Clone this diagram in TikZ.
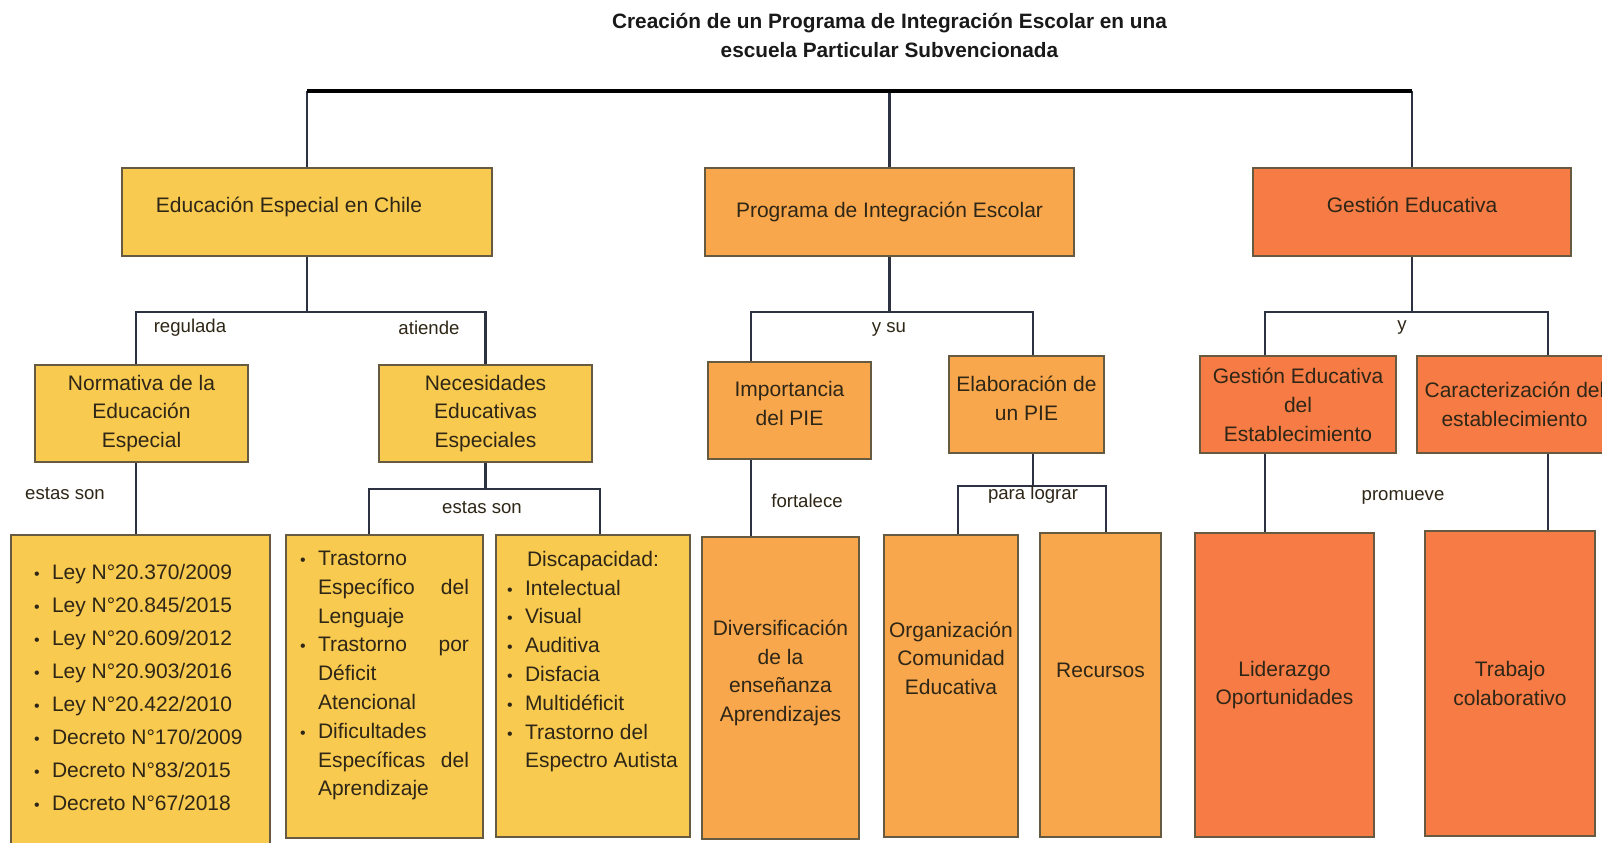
\documentclass[tikz,border=0pt]{standalone}
\usepackage{fontspec}
\setmainfont{Liberation Sans}
\definecolor{amarillo}{HTML}{F9CA50}
\definecolor{naranjo}{HTML}{F9A74C}
\definecolor{rojizo}{HTML}{F67B45}
\definecolor{borde}{HTML}{665B40}
\definecolor{linea}{HTML}{2C3242}
\definecolor{letra}{HTML}{2E2616}
\newcommand{\vineta}{\makebox[9pt][l]{\fontsize{8}{8}\selectfont •}}
\newcommand{\sangria}{\hspace*{9pt}}

\begin{document}
\begin{tikzpicture}[x=0.5pt,y=-0.5pt,
	caja/.style={draw=borde, line width=1.3pt, text=letra, align=center, inner sep=0pt, font=\fontsize{10.5}{14.25}\selectfont},
	amarilla/.style={caja, fill=amarillo},
	naranja/.style={caja, fill=naranjo},
	roja/.style={caja, fill=rojizo},
	etiqueta/.style={text=letra, inner sep=1pt, font=\fontsize{9.3}{11}\selectfont},
	conector/.style={draw=linea, line width=1.3pt},
	troncal/.style={draw=black, line width=1.7pt}]
		\useasboundingbox (0,0) rectangle (1602,842);
		\fill[white] (0,0) rectangle (1602,842);
		\clip (0,0) rectangle (1602,842);
		
		\node [text=black!90, align=center, font=\bfseries\fontsize{10.4}{14.5}\selectfont] (titulo) at (889.5,35.5) {Creación de un Programa de Integración Escolar en una\\escuela Particular Subvencionada};
		
		% primer nivel
		\node [amarilla, minimum width=185pt, minimum height=44pt] (edu) at (307,212) {\raisebox{7pt}{Educación Especial en Chile}\hspace*{18pt}};
		\node [naranja, minimum width=184.5pt, minimum height=44pt] (pie) at (889.5,212) {Programa de Integración Escolar};
		\node [roja, minimum width=159pt, minimum height=44pt] (gest) at (1412,212) {\raisebox{7pt}{Gestión Educativa}};
		
		% segundo nivel
		\node [amarilla, minimum width=106.5pt, minimum height=48.5pt] (norm) at (141.5,413.5) {Normativa de la\\Educación\\Especial};
		\node [amarilla, minimum width=106.5pt, minimum height=48.5pt] (nee) at (485.5,413.5) {Necesidades\\Educativas\\Especiales};
		\node [naranja, minimum width=81.5pt, minimum height=48.5pt] (imp) at (789.5,410.5) {\begin{tabular}{@{}c@{}}Importancia\\del PIE\\[5pt]\end{tabular}};
		\node [naranja, minimum width=77.5pt, minimum height=48.5pt] (elab) at (1026.5,404.5) {\begin{tabular}{@{}c@{}}Elaboración de\\un PIE\\[4pt]\end{tabular}};
		\node [roja, minimum width=98pt, minimum height=48.5pt, font=\fontsize{10.5}{14.5}\selectfont] (gestab) at (1298,404.5) {Gestión Educativa\\del\\Establecimiento};
		\node [roja, minimum width=97.5pt, minimum height=48.5pt] (carac) at (1514.5,404.5) {Caracterización del\\establecimiento};
		
		% tercer nivel
		\node [amarilla, inner xsep=11.5pt] (leyes) at (140.5,697.5) {\begin{minipage}[c][162.5pt][t]{106.5pt}\fontsize{10.5}{16.5}\selectfont
			\vspace*{14.5pt}
			\vineta Ley N°20.370/2009\\
			\vineta Ley N°20.845/2015\\
			\vineta Ley N°20.609/2012\\
			\vineta Ley N°20.903/2016\\
			\vineta Ley N°20.422/2010\\
			\vineta Decreto N°170/2009\\
			\vineta Decreto N°83/2015\\
			\vineta Decreto N°67/2018
		\end{minipage}};
		\node [amarilla, inner xsep=7pt] (tras) at (384.5,686.5) {\begin{minipage}[c][151.5pt][t]{84.5pt}\fontsize{10.5}{14.4}\selectfont
			\vspace*{8pt}
			\vineta Trastorno\\
			\sangria Específico\hfill del\\
			\sangria Lenguaje\\
			\vineta Trastorno\hfill por\\
			\sangria Déficit\\
			\sangria Atencional\\
			\vineta Dificultades\\
			\sangria Específicas\hfill del\\
			\sangria Aprendizaje
		\end{minipage}};
		\node [amarilla, inner xsep=5.5pt] (disc) at (593,686) {\begin{minipage}[c][151pt][t]{86pt}\fontsize{10.5}{14.4}\selectfont
			\vspace*{8pt}
			\hfill Discapacidad:\hfill\null\\
			\vineta Intelectual\\
			\vineta Visual\\
			\vineta Auditiva\\
			\vineta Disfacia\\
			\vineta Multidéficit\\
			\vineta Trastorno del\\
			\sangria Espectro Autista
		\end{minipage}};
		\node [naranja, minimum width=78.5pt, minimum height=151pt] (div) at (780.5,688) {\begin{tabular}{@{}c@{}}Diversificación\\de la\\enseñanza\\Aprendizajes\\[15pt]\end{tabular}};
		\node [naranja, minimum width=67pt, minimum height=151pt] (org) at (951,686) {\begin{tabular}{@{}c@{}}Organización\\Comunidad\\Educativa\\[26pt]\end{tabular}};
		\node [naranja, minimum width=60.5pt, minimum height=152pt] (rec) at (1100.5,685) {\raisebox{15pt}{Recursos}};
		\node [roja, minimum width=89.5pt, minimum height=152pt] (lid) at (1284.5,685) {Liderazgo\\Oportunidades};
		\node [roja, minimum width=85pt, minimum height=152.5pt] (trab) at (1510,683.5) {Trabajo\\colaborativo};
		
		% uniones
		\coordinate (raiz) at (889.5,91);
		\coordinate (jedu) at (307,312);
		\coordinate (jnee) at (485.5,489);
		\coordinate (jpie) at (889.5,312);
		\coordinate (jelab) at (1033,486);
		\coordinate (jgest) at (1412,312);
		
		\draw[conector] (edu.north) -- (edu.north |- raiz);
		\draw[conector] (gest.north) -- (gest.north |- raiz);
		\draw[conector] (raiz) -- (pie.north);
		\draw[troncal] (edu.north |- raiz) -- (gest.north |- raiz);
		
		\draw[conector] (edu.south) -- (jedu);
		\draw[conector] ([xshift=-2.75pt]norm.north) |- (jedu) -| (nee.north);
		\draw[conector] ([xshift=-2.75pt]norm.south) -- ([xshift=-2.25pt]leyes.north);
		\draw[conector] (nee.south) -- (jnee);
		\draw[conector] ([xshift=-7.75pt]tras.north) |- (jnee) -| ([xshift=3.5pt]disc.north);
		
		\draw[conector] (pie.south) -- (jpie);
		\draw[conector] ([xshift=-19.25pt]imp.north) |- (jpie) -| ([xshift=3.25pt]elab.north);
		\draw[conector] ([xshift=-19.25pt]imp.south) -- ([xshift=-14.75pt]div.north);
		\draw[conector] ([xshift=3.25pt]elab.south) -- (jelab);
		\draw[conector] ([xshift=3.5pt]org.north) |- (jelab) -| ([xshift=2.75pt]rec.north);
		
		\draw[conector] (gest.south) -- (jgest);
		\draw[conector] ([xshift=-16.5pt]gestab.north) |- (jgest) -| ([xshift=16.75pt]carac.north);
		\draw[conector] ([xshift=-16.5pt]gestab.south) -- ([xshift=-9.75pt]lid.north);
		\draw[conector] ([xshift=16.75pt]carac.south) -- ([xshift=19pt]trab.north);
		
		% etiquetas
		\node [etiqueta] (lregulada) at (190,328) {regulada};
		\node [etiqueta] (latiende) at (429,328) {atiende};
		\node [etiqueta] (lysu) at (889,329) {y su};
		\node [etiqueta] (ly) at (1402,328) {y};
		\node [etiqueta] (lestas) at (65,494) {estas son};
		\node [etiqueta] (lestasnee) at (482,508) {estas son};
		\node [etiqueta] (lfortalece) at (807,501) {fortalece};
		\node [etiqueta] (llograr) at (1033,495) {para lograr};
		\node [etiqueta] (lpromueve) at (1403,497) {promueve};
\end{tikzpicture}
\end{document}
